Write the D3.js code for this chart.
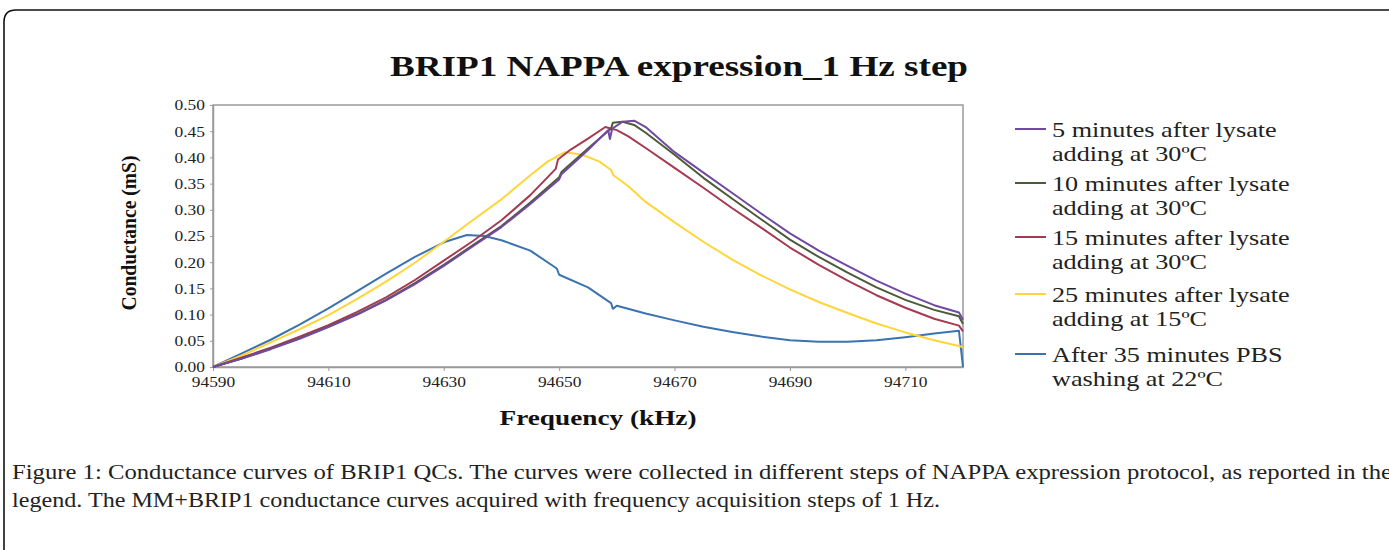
<!DOCTYPE html>
<html>
<head>
<meta charset="utf-8">
<script src="https://cdn.jsdelivr.net/npm/d3@7"></script>
<style>
  body { margin: 0; background: #fff; }
  svg { display: block; }
</style>
</head>
<body>
<svg id="chart"></svg>
<script>
const width = 1389;
const height = 550;

// series data: [frequency kHz, conductance mS]
const min5 = [[94590,0],[94595,0.016],[94600,0.034],[94605,0.054],[94610,0.076],[94615,0.1],[94620,0.127],[94625,0.158],[94630,0.193],[94635,0.23],[94640,0.267],[94645,0.311],[94650,0.358],[94650.4,0.368],[94655,0.414],[94658.5,0.452],[94658.8,0.435],[94659.2,0.455],[94661,0.468],[94663,0.47],[94665,0.458],[94670,0.41],[94675,0.371],[94680,0.332],[94685,0.293],[94690,0.255],[94695,0.222],[94700,0.193],[94705,0.165],[94710,0.14],[94715,0.118],[94719.3,0.104],[94720,0.09]];
const min10 = [[94590,0],[94595,0.016],[94600,0.035],[94605,0.055],[94610,0.077],[94615,0.101],[94620,0.128],[94625,0.16],[94630,0.195],[94635,0.232],[94640,0.269],[94645,0.314],[94650,0.362],[94650.4,0.372],[94655,0.417],[94659,0.455],[94659.3,0.466],[94661,0.468],[94663,0.462],[94665,0.447],[94670,0.405],[94675,0.361],[94680,0.321],[94685,0.282],[94690,0.243],[94695,0.21],[94700,0.18],[94705,0.152],[94710,0.128],[94715,0.109],[94719.3,0.097],[94720,0.082]];
const min15 = [[94590,0],[94595,0.018],[94600,0.037],[94605,0.058],[94610,0.08],[94615,0.105],[94620,0.133],[94625,0.166],[94630,0.203],[94635,0.24],[94640,0.28],[94645,0.328],[94649.4,0.378],[94649.8,0.396],[94652,0.415],[94655,0.436],[94658,0.458],[94660,0.452],[94662,0.44],[94665,0.418],[94670,0.38],[94675,0.342],[94680,0.303],[94685,0.266],[94690,0.228],[94695,0.195],[94700,0.165],[94705,0.137],[94710,0.113],[94715,0.092],[94719.3,0.079],[94720,0.068]];
const min25 = [[94590,0],[94595,0.022],[94600,0.047],[94605,0.072],[94610,0.099],[94615,0.13],[94620,0.163],[94625,0.199],[94630,0.239],[94635,0.28],[94640,0.32],[94645,0.366],[94648,0.392],[94651,0.41],[94654,0.405],[94657,0.392],[94659,0.376],[94659.4,0.366],[94662,0.345],[94665,0.315],[94670,0.276],[94675,0.239],[94680,0.205],[94685,0.175],[94690,0.148],[94695,0.124],[94700,0.103],[94705,0.083],[94710,0.066],[94715,0.051],[94720,0.038]];
const pbs35 = [[94590,0],[94595,0.026],[94600,0.052],[94605,0.081],[94610,0.112],[94615,0.145],[94620,0.178],[94625,0.21],[94630,0.238],[94634,0.252],[94637,0.25],[94640,0.242],[94645,0.222],[94649.6,0.188],[94650,0.176],[94655,0.152],[94659,0.122],[94659.3,0.111],[94660,0.117],[94665,0.102],[94670,0.089],[94675,0.077],[94680,0.067],[94685,0.058],[94690,0.051],[94695,0.048],[94700,0.048],[94705,0.051],[94710,0.057],[94715,0.064],[94719.3,0.069],[94720,0]];

const seriesData = [min5, min10, min15, min25, pbs35];
const seriesNames = [
  ["5 minutes after lysate", "adding at 30ºC"],
  ["10 minutes after lysate", "adding at 30ºC"],
  ["15 minutes after lysate", "adding at 30ºC"],
  ["25 minutes after lysate", "adding at 15ºC"],
  ["After 35 minutes PBS", "washing at 22ºC"]
];
const seriesColors = ["#7149a3", "#4b5a37", "#a53a52", "#ffd53a", "#3b73b0"];
const xTicks = [94590, 94610, 94630, 94650, 94670, 94690, 94710];
const yTicks = [0, 0.05, 0.1, 0.15, 0.2, 0.25, 0.3, 0.35, 0.4, 0.45, 0.5];

const caption1 = "Figure 1: Conductance curves of BRIP1 QCs. The curves were collected in different steps of NAPPA expression protocol, as reported in the";
const caption2 = "legend. The MM+BRIP1 conductance curves acquired with frequency acquisition steps of 1 Hz.";

const svg = d3.select("#chart")
    .attr("width", width)
    .attr("height", height);

// the original image is a bit wider than tall, so stretch text sideways
function stretch(sel, k) {
  sel.each(function() {
    const w = this.getComputedTextLength();
    d3.select(this).attr("textLength", w * k).attr("lengthAdjust", "spacingAndGlyphs");
  });
}

// figure frame (runs off the right and bottom edges)
svg.append("path")
    .attr("d", "M4,560 L4,22 Q4,10 16,10 L1400,10")
    .attr("fill", "none")
    .attr("stroke", "#111")
    .attr("stroke-width", 1.6);

const plot = {left: 213, right: 963, top: 105, bottom: 367};

const x = d3.scaleLinear().domain([94590, 94720]).range([plot.left, plot.right]);
const y = d3.scaleLinear().domain([0, 0.5]).range([plot.bottom, plot.top]);

const serif = "'Liberation Serif', 'Times New Roman', serif";

// plot frame
svg.append("rect")
    .attr("x", plot.left).attr("y", plot.top)
    .attr("width", plot.right - plot.left).attr("height", plot.bottom - plot.top)
    .attr("fill", "none")
    .attr("stroke", "#9a9a9a")
    .attr("stroke-width", 1.5);

const xAxis = svg.append("g")
    .attr("transform", `translate(0,${plot.bottom})`)
    .call(d3.axisBottom(x).tickValues(xTicks).tickFormat(d3.format("d")).tickSize(4).tickSizeOuter(0));

const yAxis = svg.append("g")
    .attr("transform", `translate(${plot.left},0)`)
    .call(d3.axisLeft(y).tickValues(yTicks).tickFormat(d3.format(".2f")).tickSize(3).tickSizeOuter(0));

[xAxis, yAxis].forEach(g => {
  g.select(".domain").attr("stroke", "#9a9a9a").attr("stroke-width", 1.5);
  g.selectAll(".tick line").attr("stroke", "#9a9a9a");
  g.selectAll("text")
    .attr("font-family", serif)
    .attr("font-size", 15)
    .attr("fill", "#222");
  stretch(g.selectAll("text"), 1.16);
});
xAxis.selectAll("text").attr("dy", "0.85em");
yAxis.selectAll("text").attr("x", -8);

const line = d3.line()
    .x(d => x(d[0]))
    .y(d => y(d[1]))
    .curve(d3.curveLinear);

// draw back to front so the 5-minute curve sits on top like the original
const order = [4, 3, 2, 1, 0];
svg.append("g")
  .selectAll("path")
  .data(order)
  .join("path")
    .attr("d", i => line(seriesData[i]))
    .attr("fill", "none")
    .attr("stroke", i => seriesColors[i])
    .attr("stroke-width", 2)
    .attr("stroke-linejoin", "round");

// titles
svg.append("text")
    .attr("x", 679).attr("y", 76)
    .attr("text-anchor", "middle")
    .attr("font-family", serif)
    .attr("font-weight", "bold")
    .attr("font-size", 30)
    .attr("fill", "#111")
    .attr("textLength", 578)
    .attr("lengthAdjust", "spacingAndGlyphs")
    .text("BRIP1 NAPPA expression_1 Hz step");

svg.append("text")
    .attr("x", 598).attr("y", 425)
    .attr("text-anchor", "middle")
    .attr("font-family", serif)
    .attr("font-weight", "bold")
    .attr("font-size", 22)
    .attr("fill", "#111")
    .attr("textLength", 197)
    .attr("lengthAdjust", "spacingAndGlyphs")
    .text("Frequency (kHz)");

svg.append("text")
    .attr("transform", "translate(136,233) rotate(-90)")
    .attr("text-anchor", "middle")
    .attr("font-family", serif)
    .attr("font-weight", "bold")
    .attr("font-size", 20)
    .attr("fill", "#111")
    .attr("textLength", 155)
    .attr("lengthAdjust", "spacingAndGlyphs")
    .text("Conductance (mS)");

// legend
const legendY = [129, 183, 237, 294, 354];
const legend = svg.append("g");
seriesNames.forEach((lines, i) => {
  const g = legend.append("g").attr("transform", `translate(1015,${legendY[i]})`);
  g.append("line")
    .attr("x1", 0).attr("x2", 31).attr("y1", 0).attr("y2", 0)
    .attr("stroke", seriesColors[i])
    .attr("stroke-width", 2);
  g.append("text")
    .attr("x", 37).attr("y", 8)
    .attr("font-family", serif)
    .attr("font-size", 22)
    .attr("fill", "#222")
    .text(lines[0]);
  g.append("text")
    .attr("x", 37).attr("y", 32)
    .attr("font-family", serif)
    .attr("font-size", 22)
    .attr("fill", "#222")
    .text(lines[1]);
});
stretch(legend.selectAll("text"), 1.19);

// caption
svg.append("text")
    .attr("x", 12).attr("y", 479)
    .attr("font-family", serif)
    .attr("font-size", 21)
    .attr("fill", "#222")
    .attr("textLength", 1380)
    .attr("lengthAdjust", "spacingAndGlyphs")
    .text(caption1);

svg.append("text")
    .attr("x", 12).attr("y", 507)
    .attr("font-family", serif)
    .attr("font-size", 21)
    .attr("fill", "#222")
    .attr("textLength", 928)
    .attr("lengthAdjust", "spacingAndGlyphs")
    .text(caption2);
</script>
</body>
</html>
